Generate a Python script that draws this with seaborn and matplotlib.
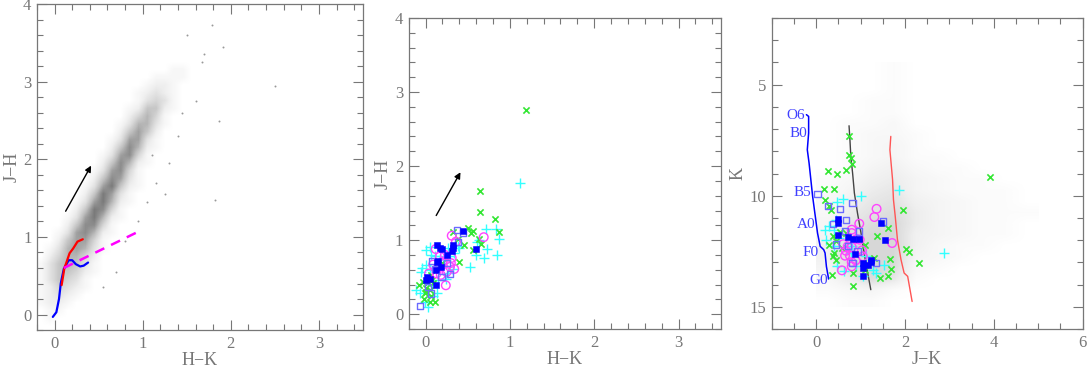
import numpy as np
import pandas as pd
import seaborn as sns
import matplotlib
matplotlib.use("Agg")
import matplotlib.pyplot as plt
from matplotlib.ticker import MultipleLocator

# ---------------- panel 1 : field colour-colour diagram ----------------
# density of field stars, 0.1 mag cells; columns H-K -0.15..1.55, rows J-H 3.35..-0.15
field_cc_rows = [
    "000000000000000000", "000000000000000000", "000000000000000110", "000000000000011110",
    "000000000000122100", "000000000001232100", "000000000001343100", "000000000012552100",
    "000000000024641000", "000000000136631000", "000000000257520000", "000000001377310000",
    "000000002586210000", "000000013784100000", "000000025862100000", "000000137841000000",
    "000000258731000000", "000001379521000000", "000002597310000000", "000013796210000000",
    "000025984100000000", "000137962100000000", "000258841000000000", "001378621000000000",
    "002577410000000000", "013676310000000000", "024664200000000000", "135653100000000000",
    "135542100000000000", "135431000000000000", "124321000000000000", "123210000000000000",
    "122100000000000000", "011000000000000000", "010000000000000000", "000000000000000000",
]
# isolated field stars outside the band
field_hk = [1.79, 1.50, 1.70, 1.67, 2.50, 1.91, 1.86, 1.82, 1.40, 1.30, 1.15, 1.05, 0.95, 0.80, 1.60, 1.45, 1.25, 0.70, 0.55, 1.10]
field_jh = [3.73, 3.60, 3.36, 3.25, 2.94, 3.45, 2.49, 1.48, 2.30, 1.95, 1.70, 1.45, 1.20, 0.95, 2.75, 2.60, 1.55, 0.55, 0.35, 2.05]

# intrinsic loci
dwarf_hk = [-0.02, 0.02, 0.05, 0.07, 0.105, 0.16, 0.20, 0.24, 0.29, 0.33, 0.38]
dwarf_jh = [-0.03, 0.03, 0.20, 0.40, 0.59, 0.70, 0.70, 0.65, 0.62, 0.63, 0.67]
giant_hk = [0.08, 0.11, 0.17, 0.21, 0.26, 0.32]
giant_jh = [0.38, 0.59, 0.79, 0.85, 0.94, 0.97]
ctts_hk = [0.105, 0.99]
ctts_jh = [0.60, 1.09]
redvec_hk = [0.11, 0.43]
redvec_jh = [1.30, 1.95]

# ---------------- panel 2 : candidate members ----------------
cc_green_hk = [1.19, 0.65, 0.64, 0.82, 0.87, 0.50, 0.56, 0.54, 0.46, 0.63, 0.66, 0.56, 0.40, 0.38, 0.33,
               0.19, 0.13, -0.08, -0.03, 0.01, -0.01, 0.05, 0.06, -0.02, 0.05, 0.11, 0.08, 0.07, 0.03, 0.00, 0.09]
cc_green_jh = [2.76, 1.67, 1.38, 1.29, 1.11, 1.17, 1.13, 1.09, 0.93, 1.02, 0.95, 0.87, 0.70, 1.01, 1.11,
               0.69, 0.64, 0.39, 0.43, 0.36, 0.28, 0.33, 0.24, 0.20, 0.17, 0.17, 0.46, 0.53, 0.44, 0.30, 0.42]
cc_cyan_hk = [1.12, 0.83, 0.87, 0.85, 0.72, 0.69, 0.73, 0.53, 0.60, 0.63, 0.61, 0.00, 0.05, 0.06, 0.11, 0.01,
              -0.05, -0.11, -0.07, 0.03, -0.01, 0.27, 0.34, 0.40, 0.38, 0.15, 0.24, 0.27, 0.33, 0.29, 0.08,
              0.13, 0.09, 0.21, -0.04, 0.05, 0.13, 0.17]
cc_cyan_jh = [1.77, 1.15, 1.01, 0.80, 1.15, 0.76, 0.88, 0.64, 0.80, 1.00, 0.97, 0.87, 0.91, 0.80, 0.78, 0.67,
              0.57, 0.33, 0.28, 0.10, 0.17, 0.90, 0.82, 0.89, 0.92, 0.46, 0.48, 0.55, 0.61, 0.78, 0.39,
              0.28, 0.24, 0.69, 0.62, 0.60, 0.62, 0.78]
cc_bfill_hk = [0.44, 0.60, 0.14, 0.17, 0.20, 0.26, 0.31, 0.32, 0.33, 0.15, 0.13, 0.12, 0.05, 0.02, 0.12, 0.18, 0.01]
cc_bfill_jh = [1.13, 0.88, 0.93, 0.90, 0.88, 0.80, 0.86, 0.90, 0.93, 0.72, 0.71, 0.60, 0.47, 0.50, 0.39, 0.64, 0.46]
cc_bopen_hk = [-0.07, 0.37, 0.44, 0.38, 0.08, 0.25, 0.29, 0.19, 0.06, 0.11, 0.03]
cc_bopen_jh = [0.11, 1.14, 1.10, 0.98, 0.72, 0.69, 0.54, 0.50, 0.28, 0.61, 0.37]
cc_mag_hk = [0.69, 0.31, 0.36, 0.12, 0.17, 0.23, 0.31, 0.30, 0.34, 0.29, 0.20, 0.15, 0.13, 0.18, 0.04, 0.24, 0.25, 0.09]
cc_mag_jh = [1.04, 1.06, 0.98, 0.88, 0.78, 0.80, 0.76, 0.69, 0.61, 0.64, 0.71, 0.64, 0.55, 0.53, 0.55, 0.39, 0.57, 0.67]

# ---------------- panel 3 : colour-magnitude diagram ----------------
# field density, columns J-K 0.25..4.75 (0.5 step), rows K 4.25..14.75 (0.5 step)
field_cm_rows = [
    "0001000000", "0001000000", "0001000000", "0011000000", "0011000000", "0112000000",
    "0122100000", "0123100000", "0123110000", "0134211000", "1245321100", "1356321110",
    "2467432110", "2578532111", "3689532110", "3799432110", "4899421100", "4899321000",
    "3798210000", "2586100000", "1231000000", "0110000000",
]
zams_jk = [-0.22, -0.17, -0.17, -0.20, -0.16, -0.12, -0.08, -0.03, 0.03, 0.09, 0.17, 0.20, 0.23, 0.28]
zams_k = [6.35, 6.43, 7.18, 7.93, 8.53, 9.28, 10.03, 10.78, 11.68, 12.28, 12.43, 12.58, 13.18, 13.75]
sp_types = ["O6", "B0", "B5", "A0", "F0", "G0"]
sp_jk = [-0.25, -0.20, -0.12, -0.02, 0.05, 0.26]
sp_k = [6.40, 7.18, 9.85, 11.30, 12.55, 13.80]
iso_mid_jk = [0.74, 0.76, 0.78, 0.82, 0.86, 0.93, 1.01, 1.08, 1.16, 1.23]
iso_mid_k = [6.85, 7.48, 8.23, 8.98, 9.88, 10.78, 11.68, 12.58, 13.48, 14.23]
iso_red_jk = [1.68, 1.66, 1.68, 1.72, 1.74, 1.78, 1.83, 1.91, 1.98, 2.06, 2.10, 2.16]
iso_red_k = [7.33, 7.93, 8.38, 9.28, 10.18, 10.93, 11.98, 12.88, 13.48, 13.63, 14.08, 14.76]

cm_green_jk = [3.92, 0.74, 0.74, 0.78, 0.80, 0.67, 0.27, 0.46, 0.18, 0.39, 0.20, 0.29, 0.33, 1.95, 1.61, 2.02, 2.10,
               2.31, 1.67, 1.68, 1.62, 1.44, 0.83, 0.35, 0.29, 0.41, 0.37, 0.44, 1.10, 1.31, 1.38, 1.10, 0.82,
               0.58, 0.67, 0.54, 0.37, 0.44]
cm_green_k = [9.17, 7.33, 8.15, 8.30, 8.56, 8.83, 8.90, 9.00, 9.70, 9.70, 10.18, 10.48, 10.66, 10.66, 11.46, 12.40,
              12.55, 13.03, 12.85, 13.30, 13.60, 13.70, 14.08, 13.59, 12.20, 12.60, 12.73, 12.88, 12.20, 12.80,
              11.80, 13.36, 13.48, 12.36, 11.68, 11.65, 11.80, 12.06]
cm_cyan_jk = [2.87, 1.87, 1.01, 0.61, 0.48, 0.29, 0.20, 0.23, 0.39, 0.48, 0.63, 0.89, 1.05, 1.29, 1.53, 1.12,
              0.80, 0.52, 0.41, 0.78, 1.35, 0.44]
cm_cyan_k = [12.60, 9.73, 10.00, 10.13, 10.30, 11.38, 11.53, 11.98, 12.28, 13.18, 13.41, 13.18, 13.63, 13.36,
             13.11, 12.73, 12.28, 11.91, 11.53, 12.58, 13.48, 11.08]
cm_bopen_jk = [0.03, 0.82, 0.26, 0.54, 0.67, 0.37, 1.50, 0.65, 0.97, 0.71, 0.82, 1.35, 0.93, 0.44]
cm_bopen_k = [9.92, 10.33, 10.45, 10.60, 11.08, 11.26, 11.16, 11.58, 11.61, 12.28, 13.03, 13.03, 12.51, 12.20]
cm_bfill_jk = [0.50, 0.50, 1.46, 0.50, 0.71, 0.84, 1.56, 0.87, 1.23, 1.23, 1.06, 1.16, 1.06, 1.06, 0.97]
cm_bfill_k = [11.04, 11.23, 11.23, 11.79, 11.86, 11.95, 12.01, 12.63, 12.88, 13.00, 13.03, 13.11, 13.26, 13.60, 11.95]
cm_mag_jk = [1.36, 1.31, 0.97, 0.80, 0.80, 0.91, 0.98, 1.71, 0.61, 0.71, 0.80, 1.03, 0.67, 0.76, 0.65, 0.89,
             0.80, 0.80, 0.58, 1.05]
cm_mag_k = [10.59, 10.96, 11.26, 11.53, 11.68, 11.95, 11.98, 12.13, 12.18, 12.28, 12.31, 12.46, 12.48, 12.70,
            12.70, 12.91, 12.99, 13.18, 13.36, 12.73]

GREY = "#777777"
C_GREEN = "#33e633"
C_CYAN = "#33ffff"
C_BFILL = "#0000ff"
C_BOPEN = "#6b6bff"
C_MAG = "#ff44ff"

sns.set_style("ticks")
plt.rcParams["font.family"] = ["Liberation Serif", "DejaVu Serif"]
plt.rcParams["axes.edgecolor"] = GREY
plt.rcParams["xtick.color"] = GREY
plt.rcParams["ytick.color"] = GREY
plt.rcParams["axes.labelcolor"] = GREY

fig = plt.figure(figsize=(10.87, 3.68), dpi=100)
ax1 = fig.add_axes([0.034, 0.103, 0.300, 0.886])
ax2 = fig.add_axes([0.376, 0.106, 0.287, 0.845])
ax3 = fig.add_axes([0.710, 0.106, 0.286, 0.845])


def density(rows):
    return np.array([[int(c) for c in r] for r in rows], dtype=float)


def style_axes(ax, xmaj, xmin, ymaj, ymin):
    ax.xaxis.set_major_locator(MultipleLocator(xmaj))
    ax.xaxis.set_minor_locator(MultipleLocator(xmin))
    ax.yaxis.set_major_locator(MultipleLocator(ymaj))
    ax.yaxis.set_minor_locator(MultipleLocator(ymin))
    ax.tick_params(which="both", direction="in", top=True, right=True, labelsize=12, pad=4)
    ax.tick_params(which="major", length=7, width=0.8)
    ax.tick_params(which="minor", length=4, width=0.8)
    for s in ax.spines.values():
        s.set_linewidth(0.9)


def labels(ax, xl, yl):
    ax.set_xlabel(xl, fontsize=13, labelpad=0)
    ax.set_ylabel(yl, fontsize=13, labelpad=2)


def members(ax, xs_ys):
    (gx, gy), (cx, cy), (ox, oy), (fx, fy), (mx, my) = xs_ys
    sns.scatterplot(x=cx, y=cy, ax=ax, marker="+", color=C_CYAN, s=45, linewidth=1.0, zorder=3)
    sns.scatterplot(x=gx, y=gy, ax=ax, marker="x", color=C_GREEN, s=20, linewidth=1.2, zorder=4)
    sns.scatterplot(x=mx, y=my, ax=ax, marker="o", facecolors="none", edgecolors=C_MAG, s=38, linewidth=1.0, zorder=4)
    sns.scatterplot(x=ox, y=oy, ax=ax, marker="s", facecolors="none", edgecolors=C_BOPEN, s=20, linewidth=1.0, zorder=4)
    sns.scatterplot(x=fx, y=fy, ax=ax, marker="s", color=C_BFILL, edgecolor=C_BFILL, s=22, zorder=5)


# ---- panel 1
ax1.imshow(density(field_cc_rows), extent=(-0.2, 1.6, -0.2, 3.4), cmap="Greys", vmin=0, vmax=15,
           interpolation="bilinear", aspect="auto", zorder=0)
sns.scatterplot(x=field_hk, y=field_jh, ax=ax1, color="#999999", s=2, linewidth=0, zorder=1)
ax1.plot(dwarf_hk, dwarf_jh, color="#0000ff", lw=1.6, zorder=3)
ax1.plot(giant_hk, giant_jh, color="#ff0000", lw=1.6, zorder=3)
ax1.plot(ctts_hk, ctts_jh, color="#ff00ff", lw=1.8, ls=(0, (4, 3)), zorder=3)
ax1.annotate("", xy=(redvec_hk[1], redvec_jh[1]), xytext=(redvec_hk[0], redvec_jh[0]),
             arrowprops=dict(arrowstyle="-|>", color="black", lw=1.0, mutation_scale=9))
ax1.set_xlim(-0.2, 3.5)
ax1.set_ylim(-0.2, 4)
labels(ax1, "H\u2212K", "J\u2212H")
style_axes(ax1, 1, 0.2, 1, 0.2)

# ---- panel 2
members(ax2, [(cc_green_hk, cc_green_jh), (cc_cyan_hk, cc_cyan_jh), (cc_bopen_hk, cc_bopen_jh),
              (cc_bfill_hk, cc_bfill_jh), (cc_mag_hk, cc_mag_jh)])
ax2.annotate("", xy=(redvec_hk[1], redvec_jh[1]), xytext=(redvec_hk[0], redvec_jh[0]),
             arrowprops=dict(arrowstyle="-|>", color="black", lw=1.0, mutation_scale=9))
ax2.set_xlim(-0.2, 3.5)
ax2.set_ylim(-0.2, 4)
labels(ax2, "H\u2212K", "J\u2212H")
style_axes(ax2, 1, 0.2, 1, 0.2)

# ---- panel 3
ax3.imshow(density(field_cm_rows), extent=(0, 5, 15, 4), cmap="Greys", vmin=0, vmax=35,
           interpolation="bilinear", aspect="auto", zorder=0)
ax3.plot(zams_jk, zams_k, color="#0000ff", lw=1.1, zorder=3)
ax3.plot(iso_mid_jk, iso_mid_k, color="#444444", lw=1.0, zorder=3)
ax3.plot(iso_red_jk, iso_red_k, color="#ff5555", lw=1.0, zorder=3)
for lab, x, y in zip(sp_types, sp_jk, sp_k):
    ax3.text(x, y, lab, color="#4040ff", fontsize=11, ha="right", va="center", zorder=6)
members(ax3, [(cm_green_jk, cm_green_k), (cm_cyan_jk, cm_cyan_k), (cm_bopen_jk, cm_bopen_k),
              (cm_bfill_jk, cm_bfill_k), (cm_mag_jk, cm_mag_k)])
ax3.set_xlim(-1, 6)
ax3.set_ylim(16, 2)
labels(ax3, "J\u2212K", "K")
style_axes(ax3, 2, 0.5, 5, 1)

fig.savefig("out.png", dpi=100)
